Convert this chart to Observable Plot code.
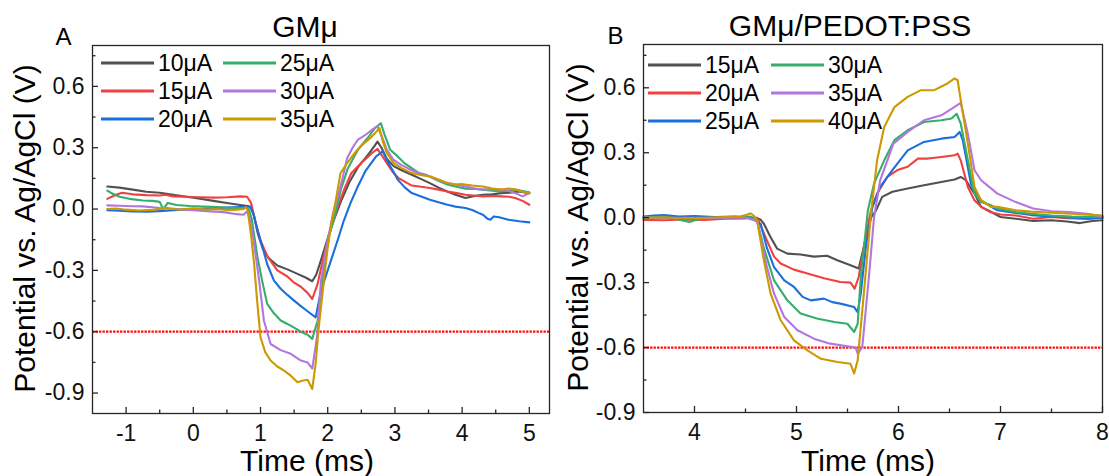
<!DOCTYPE html>
<html><head><meta charset="utf-8">
<script src="https://cdn.jsdelivr.net/npm/d3@7"></script>
<script src="https://cdn.jsdelivr.net/npm/@observablehq/plot@0.6"></script>
<style>
html,body{margin:0;padding:0;background:#fff;}
#chart{position:relative;width:1109px;height:476px;overflow:hidden;background:#fff;}
#chart svg{position:absolute;top:0;}
</style></head><body><div id="chart"></div>
<script>
// ---------- data ----------
const seriesColors = ["#515151", "#F14040", "#1A6FDF", "#37AD6B", "#B177DE", "#CC9900"];
const labelsA = ["10μA", "15μA", "20μA", "25μA", "30μA", "35μA"];
const labelsB = ["15μA", "20μA", "25μA", "30μA", "35μA", "40μA"];
const titleA = "GMμ";
const titleB = "GMμ/PEDOT:PSS";
const yLabel = "Potential vs. Ag/AgCl (V)";
const xLabel = "Time (ms)";
const thresholdV = [-0.6];

const yMajor = [-0.9, -0.6, -0.3, 0, 0.3, 0.6];
const yMinor = [-0.75, -0.45, -0.15, 0.15, 0.45, 0.75];
const xMajorA = [-1, 0, 1, 2, 3, 4, 5];
const xMinorA = [-0.5, 0.5, 1.5, 2.5, 3.5, 4.5];
const xMajorB = [4, 5, 6, 7, 8];
const xMinorB = [4.5, 5.5, 6.5, 7.5];

// Panel A (time ms, potential V)
const A_10uA = [[-1.28,0.11],[-1.1,0.105],[-0.9,0.095],[-0.7,0.085],[-0.5,0.08],[-0.3,0.07],[-0.1,0.06],[0.1,0.05],[0.3,0.04],[0.5,0.03],[0.7,0.02],[0.85,0.012],[0.9,-0.03],[0.96,-0.12],[1.03,-0.19],[1.12,-0.24],[1.25,-0.276],[1.4,-0.295],[1.55,-0.317],[1.67,-0.335],[1.77,-0.353],[1.83,-0.32],[1.9,-0.25],[2.05,-0.09],[2.2,0.04],[2.32,0.13],[2.45,0.205],[2.61,0.27],[2.7,0.31],[2.74,0.33],[2.8,0.3],[2.88,0.245],[2.98,0.21],[3.1,0.19],[3.25,0.168],[3.4,0.145],[3.52,0.127],[3.65,0.105],[3.78,0.086],[3.9,0.07],[4.05,0.054],[4.15,0.062],[4.31,0.07],[4.45,0.072],[4.58,0.078],[4.7,0.08],[4.85,0.086],[4.95,0.08],[5.0,0.078]];
const A_15uA = [[-1.28,0.05],[-1.15,0.07],[-1.06,0.08],[-0.9,0.072],[-0.7,0.068],[-0.5,0.066],[-0.42,0.07],[-0.3,0.062],[-0.1,0.06],[0.1,0.058],[0.3,0.056],[0.5,0.058],[0.7,0.062],[0.8,0.06],[0.86,0.03],[0.93,-0.07],[1.0,-0.154],[1.1,-0.23],[1.25,-0.3],[1.4,-0.33],[1.5,-0.36],[1.6,-0.38],[1.7,-0.41],[1.77,-0.44],[1.85,-0.366],[1.92,-0.26],[2.0,-0.154],[2.08,-0.06],[2.15,0.01],[2.25,0.1],[2.35,0.175],[2.5,0.225],[2.66,0.274],[2.74,0.294],[2.8,0.265],[2.88,0.225],[2.98,0.176],[3.06,0.15],[3.14,0.135],[3.25,0.115],[3.36,0.11],[3.52,0.103],[3.65,0.095],[3.78,0.086],[3.92,0.078],[4.05,0.07],[4.2,0.065],[4.31,0.062],[4.45,0.064],[4.58,0.062],[4.7,0.06],[4.79,0.054],[4.9,0.04],[5.0,0.021]];
const A_20uA = [[-1.28,-0.005],[-1.1,-0.008],[-0.9,-0.012],[-0.7,-0.013],[-0.5,-0.01],[-0.3,-0.006],[-0.1,-0.003],[0.1,0.0],[0.3,0.004],[0.5,0.007],[0.7,0.01],[0.85,0.01],[0.9,-0.03],[0.96,-0.11],[1.03,-0.187],[1.1,-0.27],[1.2,-0.35],[1.3,-0.39],[1.4,-0.42],[1.5,-0.448],[1.6,-0.475],[1.7,-0.5],[1.82,-0.53],[1.9,-0.4],[1.97,-0.33],[2.05,-0.25],[2.15,-0.15],[2.24,-0.056],[2.34,0.03],[2.44,0.105],[2.56,0.185],[2.72,0.258],[2.82,0.282],[2.88,0.24],[2.93,0.209],[3.0,0.17],[3.04,0.144],[3.15,0.105],[3.25,0.078],[3.4,0.06],[3.52,0.046],[3.65,0.033],[3.78,0.021],[3.9,0.012],[4.05,0.005],[4.15,-0.005],[4.25,-0.02],[4.31,-0.028],[4.38,-0.048],[4.42,-0.052],[4.47,-0.036],[4.55,-0.04],[4.69,-0.052],[4.85,-0.06],[5.0,-0.065]];
const A_25uA = [[-1.28,0.09],[-1.2,0.075],[-1.1,0.06],[-0.95,0.05],[-0.75,0.042],[-0.6,0.04],[-0.5,0.035],[-0.45,0.0],[-0.38,0.03],[-0.25,0.02],[-0.05,0.015],[0.15,0.012],[0.35,0.01],[0.55,0.006],[0.75,0.005],[0.82,0.005],[0.87,-0.05],[0.92,-0.16],[0.955,-0.236],[1.03,-0.36],[1.1,-0.464],[1.2,-0.51],[1.3,-0.545],[1.4,-0.562],[1.5,-0.58],[1.6,-0.6],[1.7,-0.615],[1.77,-0.635],[1.85,-0.545],[1.95,-0.268],[2.02,-0.13],[2.1,-0.04],[2.2,0.1],[2.3,0.2],[2.45,0.29],[2.6,0.35],[2.7,0.395],[2.79,0.42],[2.85,0.36],[2.93,0.29],[3.0,0.27],[3.14,0.225],[3.25,0.2],[3.36,0.176],[3.46,0.168],[3.6,0.145],[3.78,0.12],[3.9,0.11],[4.05,0.1],[4.2,0.098],[4.31,0.095],[4.45,0.09],[4.58,0.086],[4.7,0.09],[4.79,0.095],[4.9,0.088],[5.0,0.082]];
const A_30uA = [[-1.28,0.018],[-1.1,0.016],[-0.9,0.014],[-0.75,0.013],[-0.5,0.005],[-0.25,0.0],[0.0,-0.005],[0.2,-0.01],[0.45,-0.015],[0.65,-0.025],[0.75,-0.028],[0.8,-0.01],[0.85,-0.06],[0.9,-0.16],[0.98,-0.35],[1.05,-0.545],[1.15,-0.66],[1.3,-0.69],[1.45,-0.708],[1.6,-0.741],[1.7,-0.75],[1.77,-0.78],[1.84,-0.627],[1.9,-0.35],[1.96,-0.22],[2.02,-0.121],[2.08,-0.02],[2.15,0.058],[2.22,0.15],[2.29,0.25],[2.37,0.3],[2.45,0.34],[2.55,0.36],[2.66,0.388],[2.74,0.405],[2.8,0.36],[2.88,0.29],[2.98,0.24],[3.1,0.215],[3.25,0.19],[3.4,0.17],[3.52,0.16],[3.65,0.14],[3.78,0.127],[3.9,0.12],[4.05,0.11],[4.2,0.1],[4.31,0.095],[4.45,0.098],[4.58,0.095],[4.7,0.088],[4.79,0.078],[4.9,0.062],[5.0,0.078]];
const A_35uA = [[-1.28,0.0],[-1.15,0.003],[-1.0,-0.003],[-0.8,-0.007],[-0.6,-0.004],[-0.4,0.005],[-0.2,-0.003],[0.0,0.004],[0.2,-0.003],[0.35,0.0],[0.5,-0.005],[0.65,-0.003],[0.75,0.0],[0.78,0.01],[0.81,-0.007],[0.86,-0.13],[0.905,-0.268],[0.95,-0.45],[1.0,-0.627],[1.07,-0.7],[1.15,-0.741],[1.25,-0.77],[1.35,-0.79],[1.45,-0.815],[1.55,-0.847],[1.62,-0.84],[1.7,-0.835],[1.77,-0.88],[1.82,-0.757],[1.86,-0.6],[1.9,-0.48],[1.95,-0.33],[2.0,-0.187],[2.06,-0.06],[2.12,0.042],[2.19,0.176],[2.3,0.23],[2.4,0.274],[2.5,0.31],[2.61,0.34],[2.7,0.37],[2.77,0.396],[2.82,0.33],[2.88,0.274],[2.98,0.225],[3.1,0.2],[3.25,0.176],[3.4,0.165],[3.52,0.16],[3.65,0.145],[3.78,0.127],[3.9,0.12],[3.99,0.122],[4.15,0.115],[4.31,0.11],[4.45,0.1],[4.58,0.095],[4.7,0.1],[4.79,0.095],[4.9,0.085],[5.0,0.078]];

// Panel B
const B_15uA = [[3.5,0.0],[3.7,0.003],[3.9,0.0],[4.1,-0.003],[4.3,0.0],[4.5,0.002],[4.6,0.0],[4.65,-0.01],[4.68,-0.028],[4.746,-0.09],[4.81,-0.143],[4.91,-0.166],[5.04,-0.17],[5.17,-0.18],[5.3,-0.176],[5.4,-0.197],[5.53,-0.22],[5.61,-0.235],[5.66,-0.135],[5.73,0.0],[5.78,0.034],[5.84,0.096],[5.94,0.12],[6.09,0.135],[6.25,0.15],[6.42,0.165],[6.55,0.176],[6.61,0.188],[6.66,0.173],[6.745,0.111],[6.81,0.05],[6.91,0.026],[7.0,0.003],[7.15,-0.005],[7.32,-0.015],[7.5,-0.012],[7.65,-0.018],[7.78,-0.025],[7.9,-0.015],[8.0,-0.012]];
const B_20uA = [[3.5,-0.01],[3.7,-0.012],[3.9,-0.008],[4.1,-0.01],[4.3,-0.005],[4.5,-0.003],[4.615,0.0],[4.71,-0.105],[4.78,-0.18],[4.845,-0.212],[4.975,-0.24],[5.107,-0.258],[5.27,-0.28],[5.43,-0.297],[5.53,-0.3],[5.57,-0.328],[5.61,-0.274],[5.66,-0.135],[5.73,0.034],[5.79,0.111],[5.89,0.188],[5.99,0.22],[6.09,0.235],[6.19,0.273],[6.29,0.273],[6.42,0.28],[6.55,0.288],[6.58,0.296],[6.61,0.265],[6.68,0.142],[6.745,0.08],[6.81,0.05],[6.9,0.026],[7.0,0.015],[7.15,0.01],[7.32,-0.005],[7.5,0.003],[7.65,-0.002],[7.85,-0.005],[8.0,0.0]];
const B_25uA = [[3.5,0.005],[3.6,0.01],[3.7,0.012],[3.85,0.005],[4.0,0.008],[4.2,0.003],[4.4,0.005],[4.55,0.0],[4.65,-0.03],[4.71,-0.14],[4.78,-0.228],[4.88,-0.29],[4.975,-0.32],[5.06,-0.366],[5.14,-0.382],[5.27,-0.374],[5.35,-0.39],[5.43,-0.397],[5.565,-0.413],[5.6,-0.436],[5.63,-0.351],[5.68,-0.135],[5.745,0.05],[5.82,0.142],[5.94,0.22],[6.09,0.311],[6.25,0.35],[6.42,0.365],[6.55,0.373],[6.6,0.396],[6.63,0.358],[6.71,0.157],[6.81,0.08],[6.91,0.05],[6.97,0.034],[7.15,0.022],[7.3,0.012],[7.5,0.006],[7.7,0.0],[7.85,-0.005],[8.0,0.0]];
const B_30uA = [[3.5,0.0],[3.7,0.005],[3.85,-0.01],[3.95,-0.02],[4.05,-0.005],[4.2,0.0],[4.4,0.003],[4.55,0.005],[4.615,-0.015],[4.68,-0.14],[4.78,-0.29],[4.91,-0.382],[5.04,-0.443],[5.2,-0.466],[5.37,-0.482],[5.5,-0.49],[5.565,-0.528],[5.6,-0.49],[5.63,-0.274],[5.7,0.034],[5.76,0.157],[5.86,0.265],[5.96,0.358],[6.09,0.404],[6.25,0.442],[6.42,0.45],[6.52,0.458],[6.57,0.48],[6.61,0.435],[6.68,0.265],[6.745,0.111],[6.81,0.072],[6.91,0.057],[6.97,0.042],[7.15,0.026],[7.3,0.018],[7.5,0.01],[7.7,0.005],[7.85,0.003],[8.0,0.003]];
const B_35uA = [[3.5,0.0],[3.7,-0.003],[3.9,0.0],[4.1,-0.002],[4.3,0.0],[4.5,0.0],[4.615,-0.015],[4.71,-0.228],[4.78,-0.351],[4.88,-0.459],[5.01,-0.52],[5.17,-0.559],[5.33,-0.582],[5.5,-0.594],[5.58,-0.6],[5.6,-0.628],[5.645,-0.597],[5.71,-0.274],[5.76,0.0],[5.82,0.172],[5.95,0.342],[6.09,0.396],[6.25,0.45],[6.42,0.473],[6.55,0.512],[6.61,0.53],[6.68,0.388],[6.745,0.219],[6.81,0.173],[6.91,0.134],[6.97,0.111],[7.15,0.072],[7.32,0.042],[7.5,0.03],[7.67,0.026],[7.85,0.018],[8.0,0.006]];
const B_40uA = [[3.5,0.0],[3.7,0.002],[3.9,-0.003],[4.1,0.0],[4.3,0.003],[4.45,0.005],[4.52,0.015],[4.55,0.02],[4.58,0.01],[4.615,-0.015],[4.68,-0.197],[4.746,-0.351],[4.845,-0.474],[4.975,-0.567],[5.107,-0.613],[5.24,-0.652],[5.4,-0.667],[5.53,-0.675],[5.565,-0.72],[5.6,-0.659],[5.66,-0.351],[5.73,0.019],[5.79,0.265],[5.86,0.419],[5.96,0.511],[6.09,0.558],[6.22,0.589],[6.35,0.589],[6.48,0.62],[6.55,0.643],[6.58,0.635],[6.61,0.543],[6.68,0.342],[6.745,0.142],[6.81,0.08],[6.91,0.05],[6.97,0.05],[7.15,0.034],[7.3,0.028],[7.5,0.023],[7.7,0.018],[7.85,0.014],[8.0,0.01]];

const seriesA = [A_10uA, A_15uA, A_20uA, A_25uA, A_30uA, A_35uA];
const seriesB = [B_15uA, B_20uA, B_25uA, B_30uA, B_35uA, B_40uA];

// ---------- drawing ----------
const FONT = "'Liberation Sans', Arial, Helvetica, sans-serif";
const AXIS = "#262626";
const fmtX = d => (d < 0 ? "-" + Math.abs(d) : String(d));
const fmtY = d => d.toFixed(1);

function panel(cfg) {
  const innerW = cfg.width - cfg.ml - cfg.mr;
  const innerH = cfg.height - cfg.mt - cfg.mb;
  const marks = [
    Plot.ruleY(thresholdV, {stroke: "#ff1010", strokeWidth: 2.2, strokeDasharray: "2.4,1.1"}),
    ...cfg.series.map((s, i) => Plot.line(s, {x: d => d[0], y: d => d[1], stroke: seriesColors[i], strokeWidth: 2.1})),
    Plot.frame({stroke: AXIS, strokeWidth: 1.3}),
    Plot.ruleX(cfg.xMajor, {stroke: AXIS, strokeWidth: 1.3, insetTop: innerH - 6}),
    Plot.ruleX(cfg.xMinor, {stroke: AXIS, strokeWidth: 1.3, insetTop: innerH - 3.5}),
    Plot.ruleY(yMajor, {stroke: AXIS, strokeWidth: 1.3, insetRight: innerW - 6}),
    Plot.ruleY(yMinor, {stroke: AXIS, strokeWidth: 1.3, insetRight: innerW - 3.5}),
    // tick labels
    Plot.text(cfg.xMajor, {x: d => d, text: fmtX, frameAnchor: "bottom", dy: 20, textAnchor: "middle", lineAnchor: "middle", fontSize: "23px", fill: "#111"}),
    Plot.text(yMajor, {y: d => d, text: fmtY, frameAnchor: "left", dx: -8, textAnchor: "end", lineAnchor: "middle", fontSize: "23px", fill: "#111"}),
    // axis titles, panel title and letter
    Plot.text([yLabel], {text: d => d, frameAnchor: "left", rotate: -90, dx: cfg.yLabelDx, dy: -1, textAnchor: "middle", lineAnchor: "bottom", fontSize: "30px", fill: "#000"}),
    Plot.text([xLabel], {text: d => d, frameAnchor: "bottom", dx: cfg.xLabelDx, dy: cfg.xLabelDy, textAnchor: "middle", lineAnchor: "bottom", fontSize: "30px", fill: "#000"}),
    Plot.text([cfg.title], {text: d => d, frameAnchor: "top", dx: cfg.titleDx, dy: -9, textAnchor: "middle", lineAnchor: "bottom", fontSize: "30px", fill: "#000"}),
    Plot.text([cfg.letter], {text: d => d, frameAnchor: "top-left", dx: cfg.letterDx, dy: -1, lineAnchor: "bottom", textAnchor: "middle", fontSize: "24px", fill: "#000"})
  ];
  const svg = Plot.plot({
    width: cfg.width, height: cfg.height,
    marginLeft: cfg.ml, marginRight: cfg.mr, marginTop: cfg.mt, marginBottom: cfg.mb,
    x: {domain: cfg.xDomain, axis: null},
    y: {domain: [cfg.yMin, 0.8], axis: null},
    style: {fontFamily: FONT, fontSize: "22px", color: "#000", background: "transparent", overflow: "visible"},
    marks
  });
  // legend inside the frame (two columns x three rows)
  const g = d3.select(svg).append("g")
    .attr("font-family", FONT).attr("font-size", 23).attr("text-anchor", "start");
  cfg.labels.forEach((lab, i) => {
    const col = Math.floor(i / 3), row = i % 3;
    const lx = cfg.legX[col], ly = cfg.legY0 + row * cfg.legDy;
    g.append("line").attr("x1", lx).attr("x2", lx + cfg.legLen).attr("y1", ly).attr("y2", ly)
      .attr("stroke", seriesColors[i]).attr("stroke-width", 3);
    g.append("text").attr("x", lx + cfg.legLen + 4).attr("y", ly).attr("dy", "0.36em")
      .attr("text-anchor", "start").attr("fill", "#000").text(lab);
  });
  svg.style.left = cfg.left + "px";
  return svg;
}

const chart = document.getElementById("chart");
chart.appendChild(panel({
  left: 0, width: 554, height: 476, ml: 92, mr: 5, mt: 45, mb: 63,
  xDomain: [-1.5, 5.3], yMin: -1.0, xMajor: xMajorA, xMinor: xMinorA,
  series: seriesA, labels: labelsA, title: titleA, letter: "A",
  yLabelDx: -58, xLabelDx: -14, xLabelDy: 57, titleDx: -16, letterDx: -29,
  legX: [101, 223], legLen: 53, legY0: 63, legDy: 28
}));
chart.appendChild(panel({
  left: 554, width: 555, height: 476, ml: 89, mr: 7, mt: 44, mb: 64,
  xDomain: [3.5, 8], yMin: -0.9, xMajor: xMajorB, xMinor: xMinorB,
  series: seriesB, labels: labelsB, title: titleB, letter: "B",
  yLabelDx: -56, xLabelDx: -5, xLabelDy: 58, titleDx: -23, letterDx: -28,
  legX: [94, 217], legLen: 53, legY0: 65, legDy: 28
}));
</script></body></html>
